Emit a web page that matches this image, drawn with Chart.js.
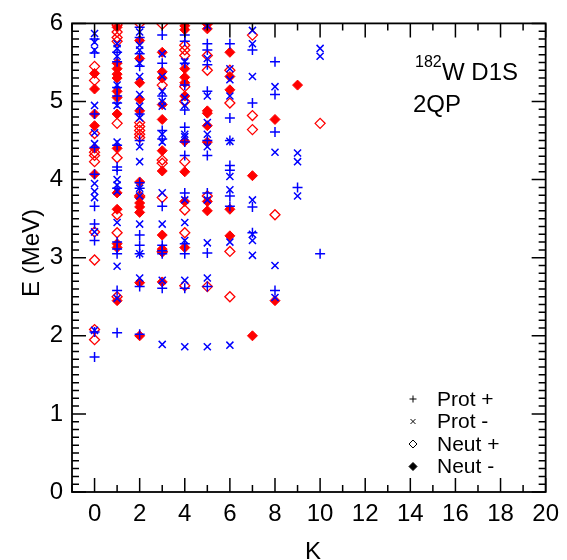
<!DOCTYPE html>
<html>
<head>
<meta charset="utf-8">
<script src="https://cdn.jsdelivr.net/npm/chart.js@4.4.0/dist/chart.umd.min.js"></script>
<style>
  html, body { margin: 0; padding: 0; background: #fff; }
  #graficoW { display: block; }
</style>
</head>
<body>
<canvas id="graficoW" width="567" height="560"></canvas>
<script>
// energias (MeV) por K = 0..10
const protPlus = [
  [1.73, 2.05, 3.22, 3.43, 3.66, 4.07, 4.41, 4.84, 5.62, 5.80],
  [2.04, 2.58, 3.05, 3.11, 3.20, 3.89, 4.12, 4.16, 4.44, 4.98, 5.07, 5.18, 5.51, 5.63],
  [2.02, 2.63, 3.05, 3.16, 3.29, 3.89, 3.96, 4.50, 4.84, 5.45, 5.61, 5.82, 5.95],
  [2.61, 3.05, 3.09, 3.16, 3.66, 4.52, 4.63, 5.07, 5.49, 5.85],
  [2.61, 3.05, 3.18, 3.83, 4.31, 4.48, 4.67, 4.89, 5.21, 5.49, 5.77, 5.85],
  [2.63, 3.06, 3.83, 4.31, 4.50, 5.13, 5.47, 5.66, 5.74],
  [3.66, 3.79, 4.12, 4.18, 4.50, 4.79, 5.74],
  [3.32, 3.65, 4.98, 5.66],
  [2.58, 4.61, 5.09, 5.51],
  [3.90],
  [3.05]
];
const protMinus = [
  [2.07, 3.33, 3.77, 3.85, 3.95, 4.46, 4.60, 4.95, 5.66, 5.76, 5.87],
  [2.48, 2.89, 3.45, 3.85, 3.93, 4.00, 4.48, 4.95, 5.21, 5.58, 5.68, 5.74],
  [2.74, 3.05, 3.43, 3.79, 3.89, 4.23, 4.42, 4.79, 4.94, 5.09, 5.32, 5.49, 5.66, 5.72, 5.89],
  [1.89, 2.71, 3.43, 3.83, 4.48, 4.58, 4.94, 5.00, 5.13, 5.32, 5.61],
  [1.86, 2.71, 3.22, 3.45, 3.74, 4.55, 4.58, 4.95, 5.05, 5.51],
  [1.86, 2.74, 3.19, 3.74, 4.42, 4.58, 4.73, 5.07, 5.55, 5.97],
  [1.88, 3.20, 3.87, 4.04, 4.49, 5.07, 5.28, 5.42],
  [3.03, 3.22, 3.30, 3.74, 5.32, 5.74, 5.91],
  [2.49, 2.90, 4.35, 5.19],
  [3.79, 4.23, 4.34],
  [5.58, 5.68]
];
const neutPlus = [
  [1.95, 2.08, 2.97, 3.33, 4.23, 4.31, 4.35, 4.59, 5.27, 5.45],
  [2.50, 3.32, 3.55, 4.28, 4.72, 5.77, 5.82, 5.89, 5.98],
  [3.79, 4.54, 4.58, 4.63, 4.68, 4.73, 6.00],
  [3.08, 3.77, 4.21, 4.25, 5.21, 5.99],
  [2.64, 3.32, 3.61, 4.23, 5.00, 5.19, 5.59, 5.66, 5.72],
  [2.63, 3.79, 5.40, 5.59],
  [2.50, 3.08, 4.98, 5.40],
  [4.64, 4.82, 5.85],
  [3.55],
  [],
  [4.72]
];
const neutMinus = [
  [4.07, 4.40, 4.69, 4.84, 5.16, 5.36],
  [2.45, 3.13, 3.18, 3.62, 3.83, 4.40, 4.84, 5.05, 5.13, 5.30, 5.35, 5.42, 5.49, 5.95],
  [2.00, 2.68, 3.58, 3.65, 3.70, 3.77, 3.97, 4.88, 5.03, 5.24, 5.55, 5.78],
  [2.69, 3.07, 3.11, 3.29, 4.11, 4.37, 4.77, 4.96, 5.30, 5.38, 5.63],
  [3.13, 3.72, 4.10, 4.49, 5.07, 5.24, 5.31, 5.42, 5.92, 5.97],
  [3.60, 3.72, 4.48, 4.69, 4.85, 4.88, 5.93, 5.99],
  [3.28, 3.62, 5.15, 5.32, 5.63],
  [2.00, 4.05],
  [2.45, 4.77],
  [5.21],
  []
];
const xTicks = [0, 2, 4, 6, 8, 10, 12, 14, 16, 18, 20];
const legendLabels = ["Prot +", "Prot -", "Neut +", "Neut -"];

const FONT = "'Liberation Sans', Arial, Helvetica, sans-serif";
const AZUL = "#0000ff";
const ROJO = "#ff0000";

const puntos = (serie) => {
  let pts = [];
  serie.forEach((energias, k) => {
    energias.forEach((e) => pts.push({ x: k, y: e }));
  });
  return pts;
};

var protMas = {
  label: legendLabels[0],
  data: puntos(protPlus),
  pointStyle: "cross",
  pointRadius: 5,
  pointBorderWidth: 1.5,
  borderColor: AZUL,
  backgroundColor: AZUL,
  showLine: false,
};
var protMenos = {
  label: legendLabels[1],
  data: puntos(protMinus),
  pointStyle: "crossRot",
  pointRadius: 5,
  pointBorderWidth: 1.5,
  borderColor: AZUL,
  backgroundColor: AZUL,
  showLine: false,
};
var neutMas = {
  label: legendLabels[2],
  data: puntos(neutPlus),
  pointStyle: "rectRot",
  pointRadius: 5,
  pointBorderWidth: 1.3,
  borderColor: ROJO,
  backgroundColor: "rgba(255,255,255,0)",
  showLine: false,
};
var neutMenos = {
  label: legendLabels[3],
  data: puntos(neutMinus),
  pointStyle: "rectRot",
  pointRadius: 5,
  pointBorderWidth: 1,
  borderColor: ROJO,
  backgroundColor: ROJO,
  showLine: false,
};

// marco con ticks hacia dentro en los cuatro lados
const marco = {
  id: "marco",
  afterDatasetsDraw(chart) {
    const { ctx, chartArea: a, scales } = chart;
    ctx.save();
    ctx.strokeStyle = "#000";
    ctx.lineWidth = 1.5;
    ctx.beginPath();
    for (let k = -1; k <= 20; k++) {
      const x = scales.x.getPixelForValue(k);
      const len = k % 2 === 0 ? 14 : 7;
      ctx.moveTo(x, a.bottom);
      ctx.lineTo(x, a.bottom - len);
      ctx.moveTo(x, a.top);
      ctx.lineTo(x, a.top + len);
    }
    for (let i = 0; i <= 60; i++) {
      const y = scales.y.getPixelForValue(i / 10);
      const len = i % 10 === 0 ? 14 : 7;
      ctx.moveTo(a.left, y);
      ctx.lineTo(a.left + len, y);
      ctx.moveTo(a.right, y);
      ctx.lineTo(a.right - len, y);
    }
    ctx.stroke();
    ctx.lineWidth = 1.8;
    ctx.strokeRect(a.left, a.top, a.right - a.left, a.bottom - a.top);
    ctx.restore();
  },
};

// textos: leyenda, etiqueta del nucleo y titulos de ejes
const textos = {
  id: "textos",
  afterDraw(chart) {
    const ctx = chart.ctx;
    ctx.save();
    ctx.fillStyle = "#000";

    ctx.textBaseline = "alphabetic";
    ctx.textAlign = "left";
    ctx.font = "16px " + FONT;
    ctx.fillText("182", 415, 67);
    ctx.font = "24px " + FONT;
    ctx.fillText("W D1S", 442, 80);
    ctx.fillText("2QP", 413, 112);

    ctx.textAlign = "center";
    ctx.fillText("K", 313, 559);
    ctx.save();
    ctx.translate(39, 253);
    ctx.rotate(-Math.PI / 2);
    ctx.fillText("E (MeV)", 0, 0);
    ctx.restore();

    const estilos = [protMas, protMenos, neutMas, neutMenos];
    ctx.textAlign = "left";
    ctx.textBaseline = "middle";
    ctx.font = "21px " + FONT;
    estilos.forEach((ds, i) => {
      const y = 399 + i * 22.5;
      ctx.strokeStyle = "#000";
      ctx.fillStyle = i === 2 ? "#fff" : "#000";
      Chart.helpers.drawPoint(ctx, {
        pointStyle: ds.pointStyle,
        radius: i < 2 ? 3.5 : 4,
        borderWidth: 1,
        rotation: 0,
      }, 413, y);
      ctx.fillStyle = "#000";
      ctx.fillText(legendLabels[i], 437, y + 1);
    });
    ctx.restore();
  },
};

var graficoW = document.getElementById("graficoW");
var chart = new Chart(graficoW, {
  type: "scatter",
  data: { datasets: [protMas, protMenos, neutMas, neutMenos] },
  options: {
    responsive: false,
    animation: false,
    layout: { padding: { left: 0, top: 16, right: 17, bottom: 0 } },
    plugins: {
      legend: { display: false },
      tooltip: { enabled: false },
    },
    scales: {
      x: {
        type: "linear",
        min: -1,
        max: 20,
        grid: { display: false, drawTicks: false },
        border: { display: false },
        ticks: {
          color: "#000",
          font: { family: FONT, size: 24 },
          padding: 8,
          maxRotation: 0,
        },
        afterBuildTicks: (scale) => {
          scale.ticks = xTicks.map((v) => ({ value: v }));
        },
        afterFit: (scale) => {
          scale.height = 68;
        },
      },
      y: {
        type: "linear",
        min: 0,
        max: 6,
        grid: { display: false, drawTicks: false },
        border: { display: false },
        ticks: {
          color: "#000",
          stepSize: 1,
          font: { family: FONT, size: 24 },
          padding: 9,
        },
        afterFit: (scale) => {
          scale.width = 72;
        },
      },
    },
  },
  plugins: [marco, textos],
});
</script>
</body>
</html>
